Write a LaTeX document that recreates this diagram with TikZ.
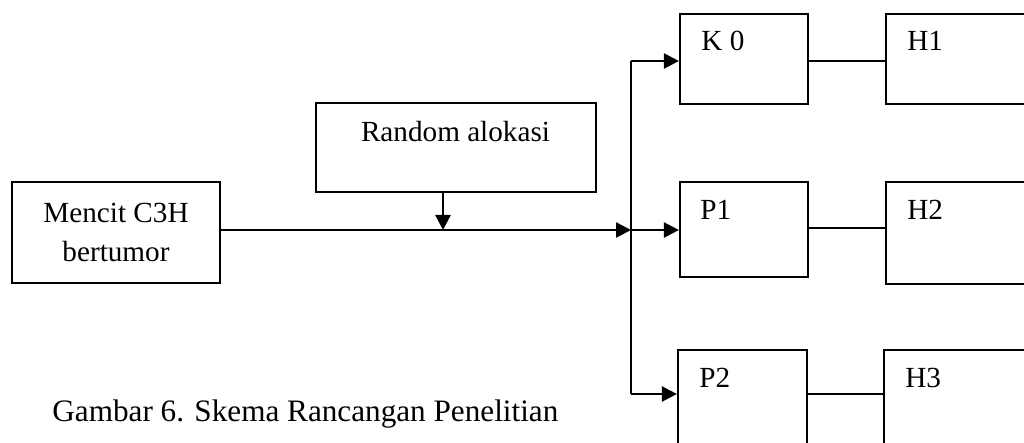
\documentclass[tikz,border=0pt]{standalone}
\usepackage{fontspec}
\setmainfont{Liberation Serif}
\usetikzlibrary{arrows.meta}
\begin{document}
\begin{tikzpicture}[x=0.5pt,y=-0.5pt,
  every node/.style={font=\fontsize{14.6}{19.5}\selectfont},
  box/.style={draw,line width=1.1pt,inner sep=0pt,align=center},
  lbl/.style={anchor=base west,inner sep=0pt},
  arr/.style={line width=1.2pt,-{Triangle[length=7.5pt,width=7.5pt]}},
  conn/.style={line width=0.85pt},
  trunk/.style={line width=1.2pt}]
\useasboundingbox (0,0) rectangle (1024,443);
\clip (0,0) rectangle (1024,443);
% boxes
\node[box,minimum width=104pt,minimum height=50.5pt] (mencit) at (116,232.5) {Mencit C3H\\bertumor};
\node[box,minimum width=140pt,minimum height=44.5pt] (ra) at (456,147.5) {};
\node[box,minimum width=64pt,minimum height=45pt] (k0) at (744,59) {};
\node[box,minimum width=64pt,minimum height=47.5pt] (p1) at (744,229.5) {};
\node[box,minimum width=64.5pt,minimum height=48pt] (p2) at (742.5,398) {};
\node[box,minimum width=74pt,minimum height=45pt] (h1) at (960,59) {};
\node[box,minimum width=74pt,minimum height=51pt] (h2) at (960,233) {};
\node[box,minimum width=75pt,minimum height=48pt] (h3) at (959,398) {};
% labels
\node[anchor=base,inner sep=0pt] (tra) at (455.5,142) {Random alokasi};
\node[lbl] (tk0) at (701,51) {K 0};
\node[lbl] (tp1) at (700,220) {P1};
\node[lbl] (tp2) at (699,388) {P2};
\node[lbl] (th1) at (907,51) {H1};
\node[lbl] (th2) at (907,220) {H2};
\node[lbl] (th3) at (905,388) {H3};
\node[anchor=base west,inner sep=0pt,font=\fontsize{15.6}{18}\selectfont] (cap) at (52,421.5) {Gambar 6. Skema Rancangan Penelitian};
% junction coordinates
\coordinate (j) at (631,230);
\coordinate (jt) at (631,61);
\coordinate (jb) at (631,394);
\coordinate (m) at (443,230);
% connectors
\draw[arr] (mencit.east |- j) -- (j);
\draw[arr] (ra.south -| m) -- (m);
\draw[trunk] (jt) -- (jb);
\draw[arr] (jt) -- (k0.west |- jt);
\draw[arr] (j) -- (p1.west |- j);
\draw[arr] (jb) -- (p2.west |- jb);
\draw[conn] (k0.east |- jt) -- (h1.west |- jt);
\draw[conn] (p1.east |- 0,228) -- (h2.west |- 0,228);
\draw[conn] (p2.east |- jb) -- (h3.west |- jb);
\end{tikzpicture}
\end{document}
